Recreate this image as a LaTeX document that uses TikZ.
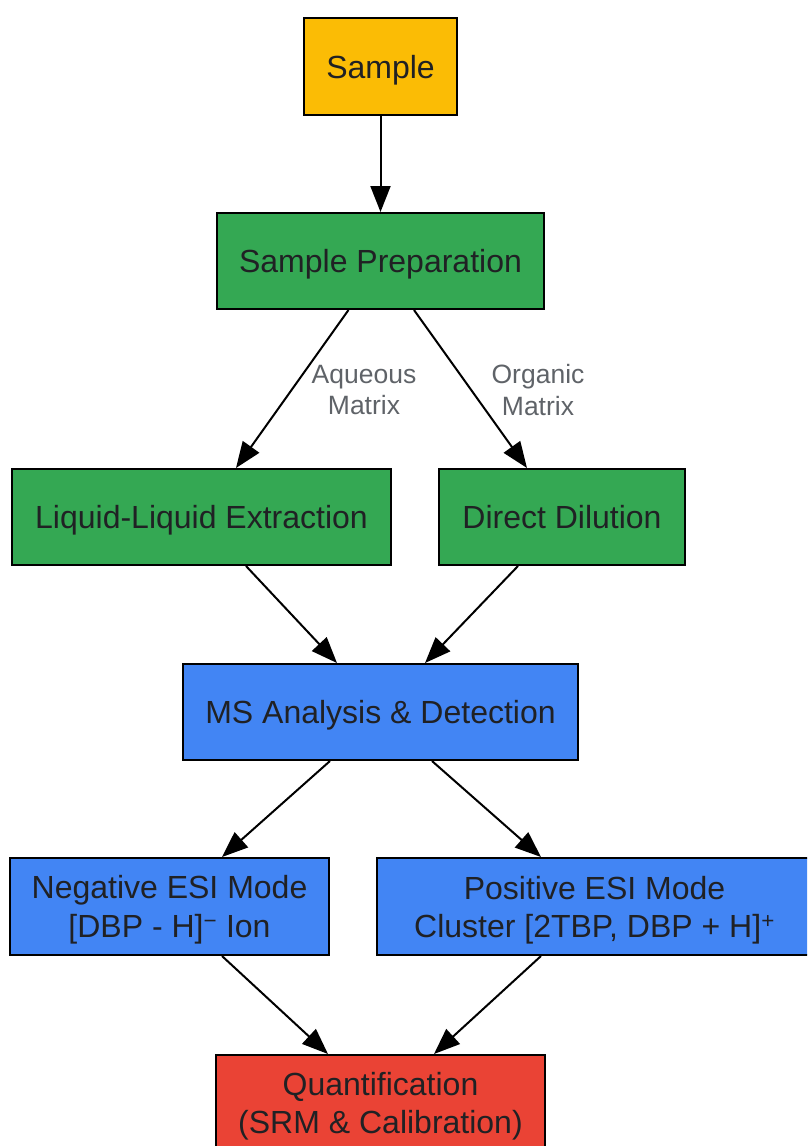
\documentclass[tikz,border=0pt]{standalone}
\usepackage{fontspec}
\setmainfont{Liberation Sans}
\usetikzlibrary{arrows.meta}
\definecolor{gyellow}{HTML}{FBBC05}
\definecolor{ggreen}{HTML}{34A853}
\definecolor{gblue}{HTML}{4285F4}
\definecolor{gred}{HTML}{EA4335}
\definecolor{txt}{HTML}{202124}
\definecolor{lbl}{HTML}{5F6368}
\tikzset{
  box/.style={draw=black, line width=2pt, rectangle, inner sep=0pt, align=center,
    text=txt, text depth=0pt, font=\fontsize{32}{38.5}\selectfont},
  boxtext/.style={text=txt, align=center, text depth=0pt, font=\fontsize{32}{38.5}\selectfont, inner sep=0pt},
  edgelbl/.style={text=lbl, align=center, text depth=0pt, font=\fontsize{26.5}{31.5}\selectfont, inner sep=0pt},
  arr/.style={line width=2pt, draw=black, -{Triangle[length=26pt,width=20pt]}}
}
\begin{document}
\begin{tikzpicture}[x=1pt,y=-1pt]
\useasboundingbox (0,0) rectangle (807,1146);
\clip (0,0) rectangle (807,1146);
\node[box, fill=gyellow, minimum width=153pt, minimum height=97pt] (sample) at (380.5,66.5) {Sample};
\node[box, fill=ggreen, minimum width=327pt, minimum height=96pt] (prep) at (380.5,261) {Sample Preparation};
\node[box, fill=ggreen, minimum width=379pt, minimum height=96pt] (lle) at (201.5,517) {Liquid-Liquid Extraction};
\node[box, fill=ggreen, minimum width=246pt, minimum height=96pt] (dd) at (562,517) {Direct Dilution};
\node[box, fill=gblue, minimum width=395pt, minimum height=96pt] (ms) at (380.5,712) {MS Analysis \& Detection};
\node[box, fill=gblue, minimum width=319pt, minimum height=97pt] (neg) at (169.5,906.5) {Negative ESI Mode\\{}[DBP - H]\textsuperscript{−} Ion};
\node[box, fill=gblue, minimum width=432pt, minimum height=97pt] (pos) at (593,906.5) {};
\node[boxtext] (postxt) at (594.5,907) {Positive ESI Mode\\Cluster [2TBP, DBP + H]\textsuperscript{+}};
\node[box, fill=gred, minimum width=329pt, minimum height=130pt, anchor=north] (quant) at (380.5,1054) {};
\node[boxtext] (qtxt) at (380.5,1103) {Quantification\\(SRM \& Calibration)};

\draw[arr] (sample.south) -- (prep.north);
\draw[arr] ([xshift=-32pt]prep.south) -- ([xshift=34.5pt]lle.north);
\draw[arr] ([xshift=33.5pt]prep.south) -- ([xshift=-35pt]dd.north);
\draw[arr] ([xshift=44.5pt]lle.south) -- ([xshift=-43.5pt]ms.north);
\draw[arr] ([xshift=-44pt]dd.south) -- ([xshift=44.5pt]ms.north);
\draw[arr] ([xshift=-50.5pt]ms.south) -- ([xshift=52.5pt]neg.north);
\draw[arr] ([xshift=51.5pt]ms.south) -- ([xshift=-52pt]pos.north);
\draw[arr] ([xshift=52.5pt]neg.south) -- ([xshift=-52.5pt]quant.north);
\draw[arr] ([xshift=-52pt]pos.south) -- ([xshift=53.5pt]quant.north);

\node[edgelbl] (l1) at (364,390) {Aqueous\\Matrix};
\node[edgelbl] (l2) at (538,390) {Organic\\Matrix};
\end{tikzpicture}
\end{document}
